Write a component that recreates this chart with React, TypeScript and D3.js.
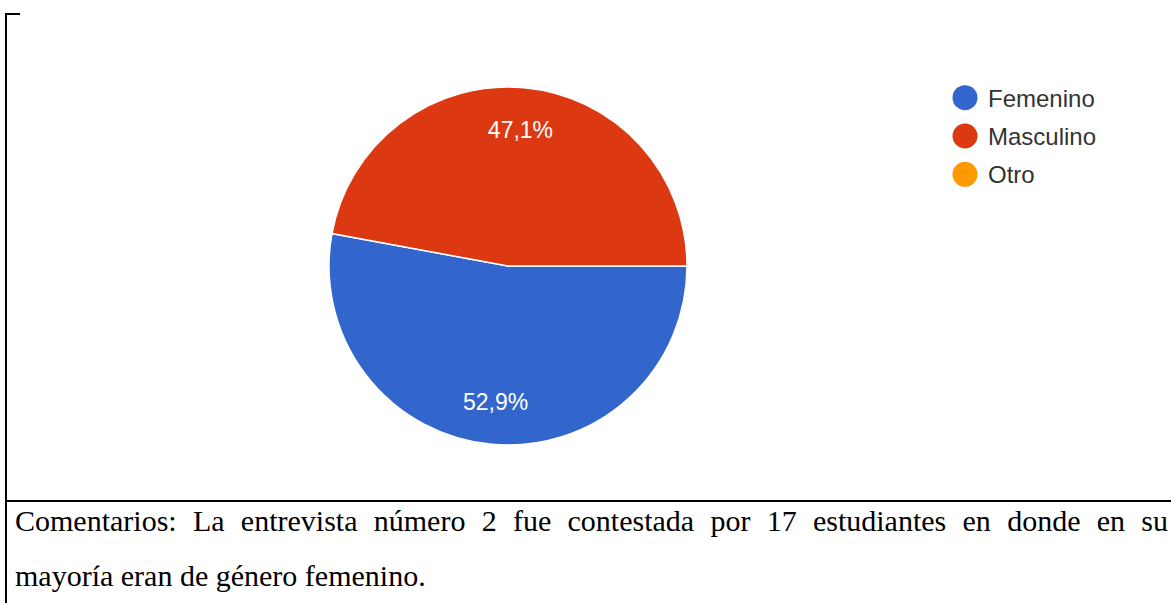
import React, { useLayoutEffect, useRef, useState } from "react";
import * as d3 from "d3";

const categories = ["Femenino", "Masculino", "Otro"];
const values = [52.9, 47.1, 0];
const colors = ["#3366cc", "#dc3912", "#ff9900"];
const commentLines = [
  "Comentarios: La entrevista número 2 fue contestada por 17 estudiantes en donde en su",
  "mayoría eran de género femenino.",
];

const W = 1171;
const H = 603;

const locale = d3.formatLocale({ decimal: ",", thousands: ".", grouping: [3], currency: ["", "€"] });
const fmt = locale.format(".1f");

export default function App() {
  const cx = 508;
  const cy = 266;
  const r = 179;
  const pie = d3
    .pie<number>()
    .sort(null)
    .startAngle(Math.PI / 2)
    .endAngle(Math.PI / 2 + 2 * Math.PI)
    .value((d) => d);
  const arcs = pie(values);
  const arc = d3.arc<d3.PieArcDatum<number>>().innerRadius(0).outerRadius(r);
  const labelArc = d3.arc<d3.PieArcDatum<number>>().innerRadius(137).outerRadius(137);

  const legendY = d3.scalePoint<string>().domain(categories).range([97.7, 174.3]);

  const line1Ref = useRef<SVGTextElement>(null);
  const [wordSpacing, setWordSpacing] = useState(0);
  const textLeft = 15;
  const textRight = 1168;
  useLayoutEffect(() => {
    const el = line1Ref.current;
    if (!el) return;
    const w = el.getComputedTextLength();
    const spaces = (commentLines[0].match(/ /g) || []).length;
    const extra = (textRight - textLeft - w) / spaces;
    setWordSpacing(extra);
  }, []);

  return (
    <svg
      width={W}
      height={H}
      style={{ position: "absolute", left: 0, top: 0, background: "#fff" }}
    >
      {/* borders */}
      <line x1={6} y1={14} x2={6} y2={H} stroke="#000" strokeWidth={2} />
      <line x1={5} y1={14} x2={20} y2={14} stroke="#000" strokeWidth={2} />
      <line x1={5} y1={501} x2={W} y2={501} stroke="#000" strokeWidth={2} />

      {/* pie */}
      <g transform={`translate(${cx},${cy})`}>
        {arcs
          .filter((a) => a.value > 0)
          .map((a) => (
            <path
              key={a.index}
              d={arc(a) || ""}
              fill={colors[a.index]}
              stroke="#fff"
              strokeWidth={1.5}
            />
          ))}
        {arcs
          .filter((a) => a.value > 0)
          .map((a) => {
            const [x, y] = labelArc.centroid(a);
            return (
              <text
                key={"l" + a.index}
                x={x}
                y={y}
                dy="0.35em"
                textAnchor="middle"
                fill="#fff"
                fontFamily="Arial, 'Liberation Sans', sans-serif"
                fontSize={23}
              >
                {fmt(a.value) + "%"}
              </text>
            );
          })}
      </g>

      {/* legend */}
      {categories.map((c, i) => (
        <g key={c}>
          <circle cx={965} cy={legendY(c)} r={12.5} fill={colors[i]} />
          <text
            x={988}
            y={(legendY(c) || 0) + 9}
            fill="#333"
            fontFamily="Arial, 'Liberation Sans', sans-serif"
            fontSize={24}
          >
            {c}
          </text>
        </g>
      ))}

      {/* comment */}
      <text
        ref={line1Ref}
        x={textLeft}
        y={531}
        fontFamily="'Liberation Serif', 'Times New Roman', serif"
        fontSize={30}
        fill="#000"
        style={{ wordSpacing: `${wordSpacing}px` }}
      >
        {commentLines[0]}
      </text>
      <text
        x={textLeft}
        y={586}
        fontFamily="'Liberation Serif', 'Times New Roman', serif"
        fontSize={30}
        fill="#000"
      >
        {commentLines[1]}
      </text>
    </svg>
  );
}
